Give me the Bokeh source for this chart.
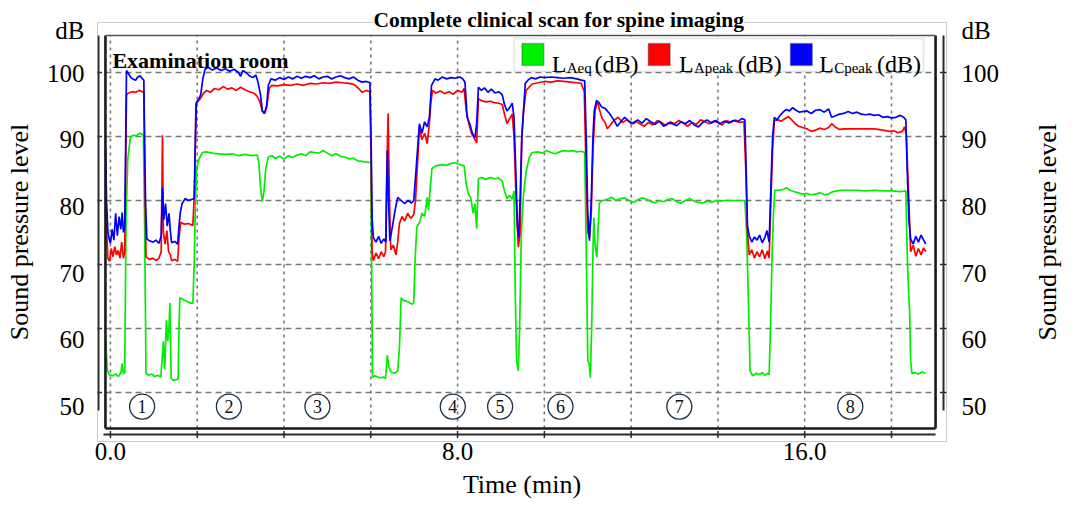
from math import pi
from bokeh.plotting import figure
from bokeh.models import Range1d, LinearAxis, FixedTicker, Label, BoxAnnotation
from bokeh.embed import file_html
from bokeh.resources import INLINE
from bokeh.core.properties import value

# ---------------- data ----------------
title_text = "Complete clinical scan for spine imaging"
room_text = "Examination room"
x_label = "Time (min)"
y_label = "Sound pressure level"
unit_text = "dB"
x_ticks = [0, 2, 4, 6, 8, 10, 12, 14, 16, 18]
x_tick_labels = {0: "0.0", 8: "8.0", 16: "16.0"}
y_ticks = [50, 60, 70, 80, 90, 100]
series_names = ["Aeq", "Apeak", "Cpeak"]
phase_labels = ["1", "2", "3", "4", "5", "6", "7", "8"]
phase_t = [0.73, 2.73, 4.77, 7.89, 8.98, 10.37, 13.11, 17.05]
phase_level = 47.8

# L_Aeq (dB): (time min, level dB)
laeq = [
    (-0.11, 58.1), (-0.07, 53.5), (-0.03, 52.8), (0.05, 52.6), (0.12, 52.9), (0.18, 52.5), (0.24, 53.0), (0.27, 54.5),
    (0.30, 52.9), (0.33, 53.2), (0.36, 77.3), (0.40, 86.5), (0.46, 89.8), (0.52, 90.2), (0.60, 90.1), (0.66, 90.5),
    (0.72, 90.4), (0.76, 90.2), (0.79, 75.0), (0.82, 53.0), (0.88, 52.7), (0.95, 52.9), (1.02, 52.5), (1.10, 52.7),
    (1.16, 52.4), (1.19, 55.0), (1.22, 58.0), (1.25, 53.6), (1.29, 61.3), (1.32, 58.0), (1.35, 60.0), (1.37, 64.0),
    (1.40, 52.2), (1.45, 51.9), (1.52, 52.0), (1.56, 52.1), (1.58, 60.0), (1.60, 64.8), (1.68, 64.5), (1.75, 64.3),
    (1.83, 64.0), (1.90, 63.9), (1.93, 70.0), (1.96, 80.0), (1.99, 85.2), (2.05, 86.6), (2.12, 87.5), (2.20, 87.6),
    (2.35, 87.4), (2.50, 87.3), (2.65, 87.2), (2.80, 87.3), (2.95, 87.0), (3.10, 87.2), (3.25, 87.0), (3.38, 87.1),
    (3.42, 86.0), (3.46, 82.0), (3.50, 79.8), (3.54, 81.5), (3.58, 85.0), (3.64, 86.8), (3.72, 87.0), (3.80, 86.6),
    (3.90, 86.9), (4.00, 86.5), (4.10, 87.0), (4.20, 86.7), (4.30, 87.1), (4.40, 87.3), (4.50, 87.0), (4.60, 87.6),
    (4.70, 87.5), (4.80, 87.4), (4.90, 87.8), (5.00, 87.4), (5.10, 87.0), (5.20, 87.3), (5.30, 86.9), (5.40, 86.8),
    (5.50, 86.5), (5.60, 86.6), (5.70, 86.2), (5.80, 86.1), (5.90, 86.0), (6.00, 85.9), (6.02, 70.0), (6.04, 52.4),
    (6.10, 52.6), (6.20, 52.3), (6.30, 52.4), (6.34, 52.2), (6.38, 55.8), (6.42, 54.0), (6.46, 53.2), (6.55, 53.0),
    (6.62, 53.4), (6.66, 57.0), (6.70, 64.8), (6.75, 64.4), (6.85, 64.2), (6.95, 63.8), (6.99, 64.0), (7.02, 70.6),
    (7.06, 75.8), (7.12, 76.5), (7.18, 78.0), (7.24, 77.5), (7.30, 80.5), (7.33, 78.5), (7.37, 82.0), (7.41, 85.0),
    (7.47, 85.3), (7.55, 85.5), (7.65, 85.6), (7.75, 85.5), (7.85, 85.8), (7.95, 85.9), (8.05, 85.6), (8.15, 85.4),
    (8.20, 82.5), (8.25, 81.0), (8.30, 80.5), (8.36, 78.0), (8.40, 79.5), (8.44, 75.6), (8.48, 83.4), (8.55, 83.6),
    (8.65, 83.3), (8.75, 83.6), (8.85, 83.4), (8.95, 83.5), (9.03, 83.0), (9.08, 81.5), (9.14, 80.3), (9.20, 80.8),
    (9.26, 80.2), (9.30, 81.5), (9.33, 65.0), (9.36, 55.0), (9.40, 53.4), (9.43, 60.0), (9.47, 75.0), (9.52, 81.0),
    (9.58, 84.5), (9.65, 86.7), (9.72, 87.5), (9.85, 87.6), (9.95, 87.4), (10.05, 87.8), (10.15, 87.5), (10.25, 87.3),
    (10.35, 87.6), (10.45, 87.8), (10.55, 87.7), (10.65, 87.8), (10.75, 87.6), (10.85, 87.7), (10.93, 87.5), (10.97, 70.0),
    (11.00, 55.0), (11.03, 54.5), (11.06, 52.3), (11.09, 60.0), (11.12, 72.0), (11.14, 77.3), (11.17, 73.0), (11.21, 71.1),
    (11.24, 76.0), (11.27, 79.7), (11.35, 80.0), (11.45, 80.2), (11.55, 80.5), (11.65, 80.0), (11.75, 80.3), (11.85, 80.4),
    (11.95, 80.0), (12.05, 79.7), (12.15, 80.1), (12.25, 80.4), (12.35, 80.2), (12.45, 79.9), (12.55, 79.6), (12.65, 80.0),
    (12.75, 79.8), (12.85, 80.2), (12.95, 80.3), (13.05, 79.8), (13.15, 79.6), (13.25, 80.0), (13.35, 80.3), (13.45, 79.9),
    (13.55, 79.7), (13.65, 79.6), (13.75, 79.9), (13.85, 79.7), (13.95, 80.0), (14.05, 79.9), (14.15, 80.0), (14.30, 80.0),
    (14.45, 80.0), (14.62, 80.0), (14.66, 75.0), (14.70, 65.0), (14.74, 53.4), (14.80, 52.6), (14.88, 53.0), (14.95, 52.8),
    (15.02, 53.1), (15.08, 52.7), (15.15, 53.0), (15.18, 52.8), (15.21, 60.0), (15.25, 72.0), (15.28, 78.0), (15.31, 81.6),
    (15.40, 81.6), (15.50, 81.7), (15.58, 82.0), (15.66, 81.6), (15.75, 81.4), (15.85, 81.2), (15.95, 81.0), (16.05, 81.1),
    (16.15, 80.9), (16.25, 81.0), (16.35, 81.2), (16.45, 80.9), (16.55, 81.0), (16.65, 81.4), (16.75, 81.5), (16.85, 81.6),
    (17.00, 81.6), (17.20, 81.6), (17.40, 81.5), (17.60, 81.6), (17.80, 81.5), (18.00, 81.5), (18.20, 81.4), (18.33, 81.5),
    (18.36, 72.0), (18.39, 66.4), (18.42, 62.0), (18.44, 55.0), (18.47, 53.0), (18.55, 53.1), (18.62, 52.9), (18.70, 53.2),
    (18.79, 53.0),
]

# L_Apeak (dB)
lapeak = [
    (-0.11, 85.0), (-0.09, 76.0), (-0.06, 71.0), (-0.02, 70.5), (0.02, 72.5), (0.06, 71.2), (0.10, 72.8), (0.14, 71.5),
    (0.18, 72.2), (0.22, 71.0), (0.26, 73.5), (0.30, 71.0), (0.33, 72.0), (0.35, 85.0), (0.37, 96.5), (0.42, 96.8),
    (0.50, 97.0), (0.58, 96.9), (0.66, 97.2), (0.74, 97.0), (0.77, 96.8), (0.79, 85.0), (0.82, 71.2), (0.90, 70.8),
    (0.98, 71.0), (1.05, 70.6), (1.12, 71.0), (1.17, 72.0), (1.20, 90.2), (1.22, 75.0), (1.26, 73.2), (1.30, 75.3),
    (1.34, 72.0), (1.38, 71.5), (1.41, 70.6), (1.48, 70.8), (1.55, 70.5), (1.58, 74.0), (1.62, 76.6), (1.70, 76.3),
    (1.80, 76.4), (1.90, 76.1), (1.94, 82.0), (1.97, 95.0), (2.02, 95.5), (2.08, 96.0), (2.15, 96.8), (2.22, 97.2),
    (2.30, 96.9), (2.40, 97.5), (2.50, 97.3), (2.60, 97.8), (2.70, 97.4), (2.80, 97.6), (2.90, 97.2), (3.00, 97.7),
    (3.10, 97.3), (3.20, 97.0), (3.30, 96.8), (3.38, 96.3), (3.44, 95.5), (3.50, 94.0), (3.55, 93.6), (3.60, 94.5),
    (3.66, 97.5), (3.72, 98.0), (3.85, 97.9), (4.00, 98.1), (4.15, 98.0), (4.30, 98.2), (4.45, 98.0), (4.60, 98.3),
    (4.75, 98.2), (4.90, 98.4), (5.05, 98.3), (5.20, 98.5), (5.35, 98.4), (5.50, 98.3), (5.62, 98.1), (5.72, 97.5),
    (5.80, 96.9), (5.90, 97.2), (5.98, 97.0), (6.01, 85.0), (6.03, 72.0), (6.06, 70.6), (6.12, 71.8), (6.18, 70.9),
    (6.24, 72.0), (6.30, 71.2), (6.34, 72.0), (6.37, 85.0), (6.40, 93.6), (6.43, 80.0), (6.46, 72.3), (6.52, 73.0),
    (6.58, 71.5), (6.62, 73.5), (6.66, 76.4), (6.72, 77.5), (6.78, 76.8), (6.85, 78.0), (6.92, 77.2), (6.99, 77.8),
    (7.03, 80.0), (7.08, 86.2), (7.12, 91.4), (7.18, 89.5), (7.24, 90.5), (7.30, 88.9), (7.35, 92.0), (7.38, 95.0),
    (7.42, 97.2), (7.50, 96.8), (7.60, 97.1), (7.70, 96.7), (7.80, 97.0), (7.90, 96.6), (8.00, 97.2), (8.10, 96.9),
    (8.15, 97.5), (8.20, 94.0), (8.26, 92.0), (8.32, 90.5), (8.38, 89.8), (8.44, 89.0), (8.48, 95.9), (8.55, 95.6),
    (8.65, 95.4), (8.75, 95.5), (8.85, 95.3), (8.95, 95.2), (9.03, 95.0), (9.08, 93.5), (9.14, 92.0), (9.20, 92.8),
    (9.26, 93.5), (9.30, 90.0), (9.35, 80.0), (9.40, 72.7), (9.44, 75.0), (9.48, 90.0), (9.52, 94.0), (9.58, 97.2),
    (9.65, 97.7), (9.72, 98.2), (9.85, 98.4), (10.00, 98.6), (10.15, 98.5), (10.30, 98.7), (10.45, 98.6), (10.60, 98.5),
    (10.75, 98.4), (10.85, 98.3), (10.92, 97.0), (10.96, 85.0), (11.00, 75.0), (11.04, 74.2), (11.08, 78.0), (11.12, 88.0),
    (11.17, 94.0), (11.22, 95.6), (11.27, 94.2), (11.33, 92.8), (11.40, 92.2), (11.45, 91.2), (11.52, 91.8), (11.60, 92.5),
    (11.70, 93.0), (11.80, 92.2), (11.90, 92.6), (12.00, 92.0), (12.10, 92.4), (12.20, 92.0), (12.30, 91.6), (12.40, 92.2),
    (12.50, 91.8), (12.60, 92.5), (12.70, 92.2), (12.80, 91.7), (12.90, 92.3), (13.00, 92.0), (13.10, 92.5), (13.20, 92.1),
    (13.30, 91.6), (13.40, 92.2), (13.50, 91.9), (13.60, 92.6), (13.70, 92.3), (13.80, 92.0), (13.90, 92.4), (14.00, 92.2),
    (14.10, 91.8), (14.20, 92.5), (14.30, 92.2), (14.40, 92.6), (14.50, 92.2), (14.60, 92.3), (14.64, 85.0), (14.68, 75.0),
    (14.72, 71.5), (14.78, 72.3), (14.84, 71.0), (14.90, 72.0), (14.96, 71.2), (15.02, 72.3), (15.08, 70.9), (15.14, 72.1),
    (15.18, 71.0), (15.22, 80.0), (15.26, 88.0), (15.30, 92.5), (15.38, 92.6), (15.46, 92.4), (15.55, 92.8), (15.62, 93.1),
    (15.70, 92.6), (15.78, 92.0), (15.86, 91.6), (15.95, 91.4), (16.05, 91.2), (16.15, 90.8), (16.25, 91.0), (16.35, 91.3),
    (16.45, 91.1), (16.55, 91.4), (16.62, 92.0), (16.70, 91.5), (16.80, 91.1), (16.90, 91.2), (17.00, 91.2), (17.20, 91.2),
    (17.40, 91.2), (17.60, 91.2), (17.80, 91.0), (17.95, 90.8), (18.05, 90.9), (18.15, 90.6), (18.25, 90.8), (18.30, 91.5),
    (18.34, 90.3), (18.37, 85.0), (18.40, 80.0), (18.44, 72.0), (18.50, 73.0), (18.56, 71.3), (18.62, 72.5), (18.68, 71.5),
    (18.74, 72.6), (18.79, 72.0),
]

# L_Cpeak (dB)
lcpeak = [
    (-0.11, 88.0), (-0.09, 80.0), (-0.06, 75.3), (-0.03, 74.0), (0.00, 73.3), (0.04, 75.5), (0.08, 73.8), (0.12, 78.0),
    (0.16, 74.5), (0.20, 77.5), (0.24, 75.5), (0.27, 78.1), (0.30, 75.0), (0.33, 76.0), (0.35, 88.0), (0.37, 100.3),
    (0.42, 99.8), (0.47, 99.2), (0.52, 99.0), (0.58, 98.8), (0.63, 99.3), (0.68, 99.5), (0.74, 99.0), (0.77, 98.8),
    (0.79, 88.0), (0.81, 79.5), (0.84, 74.0), (0.90, 73.7), (0.98, 73.5), (1.05, 73.8), (1.12, 73.3), (1.17, 74.5),
    (1.20, 82.0), (1.23, 77.0), (1.27, 79.5), (1.31, 76.0), (1.35, 78.0), (1.38, 75.3), (1.41, 73.4), (1.48, 73.6),
    (1.55, 73.2), (1.58, 76.0), (1.61, 78.1), (1.65, 79.5), (1.72, 80.3), (1.80, 80.0), (1.88, 80.2), (1.93, 80.3),
    (1.96, 90.0), (1.98, 95.3), (2.03, 95.8), (2.08, 96.5), (2.13, 99.0), (2.18, 100.5), (2.25, 100.8), (2.35, 100.4),
    (2.45, 100.7), (2.55, 100.3), (2.65, 100.6), (2.75, 100.2), (2.85, 100.5), (2.95, 100.0), (3.00, 99.4), (3.05, 100.3),
    (3.12, 100.0), (3.20, 99.5), (3.28, 99.2), (3.35, 99.6), (3.40, 98.5), (3.46, 96.5), (3.50, 94.0), (3.55, 93.6),
    (3.60, 94.8), (3.64, 98.0), (3.70, 99.0), (3.80, 98.8), (3.90, 99.2), (4.00, 98.9), (4.10, 99.3), (4.20, 99.0),
    (4.30, 99.4), (4.40, 99.1), (4.50, 99.4), (4.60, 99.2), (4.70, 99.5), (4.80, 99.0), (4.90, 99.3), (5.00, 99.4),
    (5.10, 99.0), (5.20, 99.3), (5.30, 99.5), (5.40, 99.2), (5.50, 99.0), (5.60, 99.3), (5.70, 98.8), (5.80, 98.5),
    (5.90, 98.6), (5.98, 98.4), (6.01, 88.0), (6.03, 77.3), (6.06, 74.2), (6.12, 73.5), (6.18, 74.4), (6.24, 73.3),
    (6.30, 74.0), (6.35, 73.5), (6.38, 87.8), (6.41, 80.0), (6.44, 73.7), (6.50, 76.0), (6.56, 78.5), (6.62, 80.5),
    (6.70, 80.0), (6.78, 79.5), (6.86, 80.0), (6.94, 79.6), (6.99, 80.0), (7.03, 83.6), (7.07, 87.3), (7.12, 92.0),
    (7.18, 90.5), (7.24, 92.3), (7.30, 91.5), (7.35, 93.0), (7.40, 98.0), (7.48, 99.0), (7.55, 98.8), (7.65, 99.3),
    (7.75, 99.0), (7.85, 99.2), (7.95, 99.1), (8.05, 99.3), (8.12, 99.0), (8.17, 98.5), (8.22, 93.0), (8.28, 92.0),
    (8.34, 90.5), (8.40, 89.8), (8.44, 92.0), (8.48, 97.7), (8.55, 97.2), (8.62, 97.6), (8.70, 96.9), (8.78, 97.4),
    (8.86, 96.8), (8.95, 97.0), (9.03, 96.5), (9.08, 95.0), (9.14, 94.0), (9.20, 94.5), (9.26, 95.2), (9.30, 93.0),
    (9.34, 85.0), (9.38, 76.0), (9.41, 74.2), (9.44, 80.0), (9.48, 89.8), (9.52, 94.0), (9.56, 98.3), (9.62, 98.8),
    (9.70, 99.2), (9.80, 99.0), (9.90, 99.3), (10.00, 99.2), (10.15, 99.3), (10.30, 99.2), (10.45, 99.1), (10.60, 99.2),
    (10.75, 99.0), (10.85, 98.8), (10.93, 98.7), (10.97, 88.0), (11.00, 78.0), (11.04, 73.7), (11.08, 80.0), (11.12, 90.0),
    (11.15, 94.0), (11.20, 95.6), (11.26, 95.3), (11.32, 94.6), (11.40, 94.4), (11.50, 93.6), (11.60, 92.6), (11.68, 91.6),
    (11.76, 92.3), (11.85, 93.0), (11.95, 92.4), (12.05, 92.0), (12.15, 92.6), (12.25, 92.1), (12.35, 92.8), (12.45, 92.3),
    (12.55, 91.9), (12.65, 92.4), (12.75, 91.6), (12.85, 92.1), (12.95, 92.0), (13.05, 91.7), (13.15, 92.3), (13.25, 92.0),
    (13.35, 92.5), (13.45, 91.8), (13.55, 91.5), (13.65, 92.2), (13.75, 92.6), (13.85, 92.1), (13.95, 92.5), (14.05, 92.0),
    (14.15, 92.4), (14.25, 92.1), (14.35, 92.5), (14.45, 92.3), (14.55, 92.8), (14.62, 92.6), (14.65, 85.0), (14.68, 76.0),
    (14.72, 74.5), (14.78, 73.5), (14.84, 74.3), (14.90, 73.8), (14.96, 74.6), (15.02, 73.4), (15.08, 74.2), (15.13, 75.3),
    (15.18, 73.5), (15.22, 82.0), (15.26, 90.0), (15.30, 93.0), (15.36, 92.6), (15.42, 93.2), (15.50, 93.8), (15.57, 94.2),
    (15.65, 94.0), (15.72, 94.5), (15.80, 94.1), (15.88, 93.8), (15.95, 93.9), (16.05, 94.0), (16.15, 93.6), (16.25, 94.1),
    (16.35, 94.2), (16.45, 93.8), (16.55, 94.3), (16.62, 93.0), (16.70, 93.2), (16.80, 93.5), (16.90, 93.6), (17.00, 93.9),
    (17.10, 93.6), (17.20, 93.8), (17.30, 93.5), (17.40, 93.4), (17.50, 93.5), (17.60, 93.3), (17.70, 93.4), (17.80, 93.0),
    (17.90, 93.1), (18.00, 92.9), (18.10, 93.0), (18.20, 93.3), (18.28, 93.0), (18.33, 92.6), (18.36, 85.0), (18.40, 77.0),
    (18.44, 74.0), (18.50, 73.2), (18.56, 74.4), (18.62, 73.5), (18.68, 74.6), (18.74, 73.8), (18.79, 73.2),
]

# ---------------- layout helpers (pixel -> data) ----------------
W, H = 1079, 510
FL, FR, FT, FB = 97, 951, 22, 441          # outer (gray) frame in px
IL, IR, IT, IB = 105, 940, 35, 428         # inner (black) frame in px
X0, KX = 110.0, 43.65                      # px of t=0, px per minute
Y100, KY = 72.0, 6.4                       # px of 100 dB, px per dB
LAB100, LABK = 72.5, 6.67                  # tick-label scale (slightly stretched as in the picture)
UNIT_TICK = 106.375                        # where the "dB" unit sits on the label scale

def dx(px):
    return (px - X0) / KX

def dy(py):
    return 100 - (py - Y100) / KY

SERIF = "Liberation Serif"
GREEN, RED, BLUE = "#00ee00", "#ff0000", "#0000ff"

p = figure(width=W, height=H, output_backend="svg", toolbar_location=None,
           x_range=Range1d(dx(FL), dx(FR)), y_range=Range1d(dy(FB), dy(FT)),
           x_axis_location=None, y_axis_location=None,
           min_border_left=FL, min_border_right=W - FR,
           min_border_top=FT, min_border_bottom=H - FB)
p.outline_line_color = "#c8c8c8"
p.outline_line_width = 1
p.grid.visible = False
p.background_fill_color = "white"
p.border_fill_color = "white"

# title above the frame (overlapping its top edge, as in the picture)
p.title.text = title_text
p.title.align = "left"
p.title.offset = 276
p.title.standoff = -18
p.title.text_font = SERIF
p.title.text_font_size = "21.5px"
p.title.text_font_style = "bold"
p.title.text_color = "black"
p.title.background_fill_color = "white"

p.extra_y_ranges = {"lab": Range1d(100 - (FB - LAB100) / LABK, 100 + (LAB100 - FT) / LABK)}

def style_axis(ax):
    ax.axis_line_color = None
    ax.major_tick_line_color = None
    ax.minor_tick_line_color = None
    ax.major_tick_out = 0
    ax.major_tick_in = 0
    ax.major_label_text_font = SERIF
    ax.major_label_text_font_size = "25px"
    ax.major_label_text_color = "black"
    ax.axis_label_text_font = SERIF
    ax.axis_label_text_font_style = "normal"
    ax.axis_label_text_color = "black"
    ax.axis_label_text_font_size = "26px"

lab_ticks = y_ticks + [UNIT_TICK]
lab_over = {UNIT_TICK: unit_text}

left = LinearAxis(y_range_name="lab", ticker=FixedTicker(ticks=lab_ticks), major_label_overrides=lab_over,
                  axis_label=y_label)
style_axis(left)
left.major_label_standoff = 13
left.axis_label_standoff = 10
p.add_layout(left, "left")

right = LinearAxis(y_range_name="lab", ticker=FixedTicker(ticks=lab_ticks), major_label_overrides=lab_over)
style_axis(right)
right.major_label_standoff = 15
p.add_layout(right, "right")

# right-hand axis title, reading bottom-to-top like the left one (text starts at its tick)
RT = dy(340)
right_title = LinearAxis(ticker=FixedTicker(ticks=[RT]), major_label_overrides={RT: y_label})
style_axis(right_title)
right_title.major_label_text_font_size = "26px"
right_title.major_label_orientation = pi / 2
right_title.major_label_text_baseline = "top"
right_title.major_label_standoff = 45
p.add_layout(right_title, "right")

overrides = {t: x_tick_labels.get(t, "") for t in x_ticks}
bottom = LinearAxis(ticker=FixedTicker(ticks=x_ticks), major_label_overrides=overrides, axis_label=x_label)
style_axis(bottom)
bottom.major_label_standoff = 1
bottom.axis_label_standoff = 7
p.add_layout(bottom, "below")

# grid lines (inside the inner frame only)
yb, yt, xl, xr = dy(IB), dy(IT), dx(IL), dx(IR)
p.segment(x0=x_ticks, y0=[yb] * len(x_ticks), x1=x_ticks, y1=[yt] * len(x_ticks),
          line_color="#7a7a7a", line_width=1.6, line_dash="3 4")
p.segment(x0=[xl] * len(y_ticks), y0=y_ticks, x1=[xr] * len(y_ticks), y1=y_ticks,
          line_color="#7a7a7a", line_width=1.6, line_dash="6 4")

# series
for pairs, color in ((laeq, GREEN), (lapeak, RED), (lcpeak, BLUE)):
    xs = [a for a, b in pairs]
    ys = [b for a, b in pairs]
    p.line(xs, ys, line_color=color, line_width=1.7)

# inner frame + offset axis lines
p.segment(x0=[xl, xl, xr], y0=[yb, yb, yb], x1=[xl, xr, xr], y1=[yt, yb, yt],
          line_color="#1a1a1a", line_width=2.6)
p.segment(x0=[xl], y0=[yt], x1=[xr], y1=[yt], line_color="#555555", line_width=1.6)
p.segment(x0=[dx(98), dx(948), dx(103)], y0=[yt, yt, dy(434)],
          x1=[dx(98), dx(948), xr], y1=[dy(410), dy(410), dy(434)],
          line_color="#2a2a2a", line_width=2)
p.scatter(x=x_ticks, y=[dy(434)] * len(x_ticks), marker="dash", angle=pi / 2, size=7,
          line_color="#2a2a2a", line_width=1.5)
p.scatter(x=[dx(98)] * len(y_ticks) + [dx(948)] * len(y_ticks), y=y_ticks + y_ticks, marker="dash",
          size=7, line_color="#2a2a2a", line_width=1.5)

# phase markers
p.scatter(x=phase_t, y=[phase_level] * len(phase_t), marker="circle", size=25,
          fill_color=None, line_color="#1b3042", line_width=1.3)
p.text(x=phase_t, y=[phase_level] * len(phase_t), text=phase_labels, text_align="center",
       text_baseline="middle", text_font=value(SERIF), text_font_size="18px", text_color="#111111")

# room label
p.add_layout(Label(x=dx(112), y=dy(60), text=room_text, text_align="left", text_baseline="alphabetic",
                   text_font=SERIF, text_font_size="22px", text_font_style="bold", text_color="black"))

# legend (built by hand to allow subscripts)
p.add_layout(BoxAnnotation(left=dx(516), right=dx(928), top=dy(38), bottom=dy(71),
                           fill_color="white", fill_alpha=1, line_color="#a8a8a8", line_width=1.5))
legend_items = [(GREEN, 524, 554, 569, 597), (RED, 651, 682, 697, 741), (BLUE, 794, 823, 838, 881)]
for (color, sq, lx, sx, ux), name in zip(legend_items, series_names):
    p.add_layout(BoxAnnotation(left=dx(sq), right=dx(sq + 22), top=dy(43), bottom=dy(65),
                               fill_color=color, fill_alpha=1, line_color="#1e2b38", line_width=1.5))
    p.add_layout(Label(x=dx(lx), y=dy(63), text="L", text_baseline="alphabetic",
                       text_font=SERIF, text_font_size="24px", text_color="black"))
    p.add_layout(Label(x=dx(sx), y=dy(67), text=name, text_baseline="alphabetic",
                       text_font=SERIF, text_font_size="15px", text_color="black"))
    p.add_layout(Label(x=dx(ux), y=dy(63), text="(dB)", text_baseline="alphabetic",
                       text_font=SERIF, text_font_size="24px", text_color="black"))

open("out.html", "w").write(file_html(p, INLINE))
